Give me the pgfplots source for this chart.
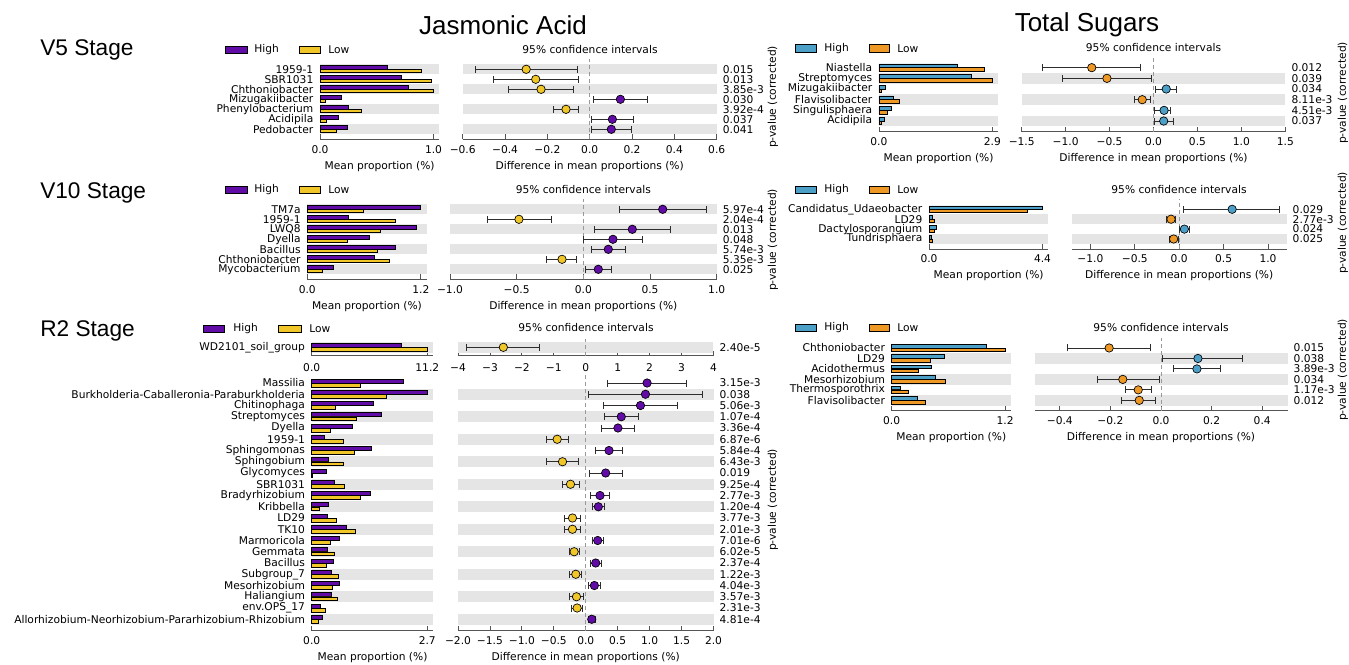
\documentclass[border=0pt]{standalone}
\usepackage{fontspec}
\setmainfont{DejaVu Sans}
\newfontfamily\arial{Liberation Sans}
\usepackage{pgfplots}
\usepackage{pgfplotstable}
\pgfplotsset{compat=1.18}

% 1 px of the reference = 0.75pt
\newcommand\px[1]{\fpeval{(#1)*0.75}pt}
\newcommand\fs{\fontsize{8}{9.6}\selectfont}

\definecolor{jaH}{RGB}{98,12,168}
\definecolor{jaL}{RGB}{240,198,40}
\definecolor{tsH}{RGB}{76,160,200}
\definecolor{tsL}{RGB}{238,152,38}
\definecolor{bandc}{RGB}{229,229,229}
\definecolor{axc}{RGB}{85,85,85}
\definecolor{errc}{RGB}{45,45,45}

% r = row counted from the bottom; hi/lo = mean proportion; d, cl, ch = difference and 95% CI; g = larger group
\pgfplotstableread{
r hi lo d cl ch g
7 0.59 0.89 -0.300 -0.539 -0.058 l
6 0.72 0.98 -0.255 -0.455 -0.054 l
5 0.78 1.00 -0.230 -0.384 -0.076 l
4 0.19 0.05 0.145 0.016 0.274 h
3 0.25 0.36 -0.112 -0.170 -0.052 l
2 0.16 0.06 0.107 0.009 0.206 h
1 0.24 0.14 0.102 0.009 0.198 h
}\tJAa
\pgfplotstableread{
r hi lo d cl ch g
7 1.200 0.593 0.595 0.270 0.920 h
6 0.434 0.928 -0.483 -0.718 -0.238 l
5 1.150 0.777 0.367 0.083 0.655 h
4 0.657 0.427 0.222 0.000 0.445 h
3 0.935 0.745 0.187 0.062 0.318 h
2 0.706 0.868 -0.160 -0.275 -0.050 l
1 0.272 0.159 0.112 0.018 0.208 h
}\tJAb
\pgfplotstableread{
r hi lo d cl ch g
1 8.64 11.20 -2.58 -3.73 -1.45 l
}\tJAc
\pgfplotstableread{
r hi lo d cl ch g
22 2.14 1.14 0.960 0.340 1.580 h
21 2.70 1.75 0.935 0.050 1.830 h
20 1.45 0.55 0.857 0.270 1.440 h
19 1.63 1.05 0.556 0.296 0.820 h
18 0.95 0.43 0.504 0.240 0.764 h
17 0.30 0.74 -0.447 -0.613 -0.275 l
16 1.39 1.00 0.364 0.156 0.571 h
15 0.38 0.74 -0.364 -0.613 -0.114 l
14 0.35 0.02 0.312 0.052 0.571 h
13 0.52 0.76 -0.239 -0.364 -0.104 l
12 1.38 1.14 0.223 0.078 0.374 h
11 0.39 0.17 0.197 0.104 0.300 h
10 0.37 0.57 -0.208 -0.338 -0.078 l
9 0.82 1.02 -0.208 -0.338 -0.078 l
8 0.64 0.43 0.187 0.104 0.270 h
7 0.37 0.54 -0.182 -0.260 -0.104 l
6 0.51 0.35 0.156 0.068 0.244 h
5 0.47 0.62 -0.156 -0.250 -0.062 l
4 0.64 0.48 0.135 0.042 0.234 h
3 0.47 0.60 -0.145 -0.260 -0.042 l
2 0.195 0.31 -0.135 -0.218 -0.052 l
1 0.26 0.156 0.094 0.042 0.145 h
}\tJAd
\pgfplotstableread{
r hi lo d cl ch g
6 2.00 2.70 -0.703 -1.262 -0.149 l
5 2.36 2.90 -0.530 -1.034 -0.025 l
4 0.167 0.056 0.145 0.020 0.265 h
3 0.38 0.51 -0.128 -0.219 -0.033 l
2 0.33 0.22 0.120 0.008 0.194 h
1 0.148 0.074 0.116 0.008 0.223 h
}\tTSa
\pgfplotstableread{
r hi lo d cl ch g
4 4.40 3.81 0.596 0.050 1.133 h
3 0.14 0.20 -0.092 -0.138 -0.042 l
2 0.28 0.21 0.058 0.000 0.117 h
1 0.085 0.113 -0.0625 -0.1125 -0.0125 l
}\tTSb
\pgfplotstableread{
r hi lo d cl ch g
6 1.00 1.20 -0.205 -0.370 -0.040 l
5 0.556 0.41 0.146 0.006 0.323 h
4 0.42 0.284 0.142 0.049 0.235 h
3 0.46 0.567 -0.151 -0.252 -0.007 l
2 0.096 0.18 -0.090 -0.140 -0.036 l
1 0.268 0.357 -0.086 -0.155 -0.0215 l
}\tTSc

\pgfplotsset{
  stamp/.style={scale only axis, anchor=north west, clip=false,
    axis x line*=bottom,
    x axis line style={draw=axc, line width=0.6pt},
    y axis line style={draw=none},
    tick align=inside, major tick length=\px{5},
    xtick style={draw=axc, line width=0.6pt},
    ytick style={draw=none},
    tick label style={font=\fs},
    xticklabel style={anchor=center, yshift=-\px{10}},
    xlabel style={font=\fs, at={(axis description cs:0.5,0)}, anchor=center, yshift=-\px{27}},
  },
  barpanel/.style={stamp, axis y line*=left, xmin=0,
    yticklabel style={anchor=east, xshift=-\px{2}}},
  cipanel/.style={stamp, axis y line*=right,
    yticklabel style={anchor=west, xshift=\px{1.5}}},
  band/.style={forget plot, draw=bandc, line width=#1, mark=none},
  zero/.style={forget plot, draw=gray!80, line width=0.6pt, dash pattern=on \px{4} off \px{3}, mark=none},
  hbar/.style={xbar, bar width=0.34, bar shift=0pt, draw=black, line width=0.5pt, forget plot},
}

% bars of one panel
\newcommand\bars[3]{%
  \addplot[hbar, fill=#2] table[x=hi, y expr=\thisrow{r}+0.18]{#1};
  \addplot[hbar, fill=#3] table[x=lo, y expr=\thisrow{r}-0.18]{#1};
}
% confidence intervals of one panel
\newcommand\cis[3]{%
  \addplot[forget plot, only marks, mark=none,
    error bars/.cd, x dir=both, x explicit, error mark=|,
    error bar style={draw=errc, line width=0.7pt, solid},
    error mark options={draw=errc, line width=0.7pt, mark size=\px{3.5}}]
    table[x=d, y=r, x error plus expr=\thisrow{ch}-\thisrow{d},
          x error minus expr=\thisrow{d}-\thisrow{cl}]{#1};
  \addplot[only marks, scatter, scatter src=explicit symbolic, mark=*, mark size=\px{4.2},
    mark options={line width=0.5pt},
    scatter/classes={h={mark=*, draw=black, fill=#2}, l={mark=*, draw=black, fill=#3}}]
    table[x=d, y=r, meta=g]{#1};
}
% legend swatches: box1 from, to, text; box2 from, to, text; y; colours
\newcommand\lgd[9]{%
  \filldraw[fill=#8, draw=black, line width=0.5pt] (\px{#1},\px{-(#7)+3.6}) rectangle (\px{#2},\px{-(#7)-3.6});
  \node[anchor=west, inner sep=0pt, font=\fs] at (\px{#3},\px{-(#7)}) {High};
  \filldraw[fill=#9, draw=black, line width=0.5pt] (\px{#4},\px{-(#7)+3.6}) rectangle (\px{#5},\px{-(#7)-3.6});
  \node[anchor=west, inner sep=0pt, font=\fs] at (\px{#6},\px{-(#7)}) {Low};
}
\newcommand\cititle[2]{\node[font=\fs] at (\px{#1},\px{-(#2)}) {95\% confidence intervals};}

\begin{document}
\begin{tikzpicture}
\useasboundingbox (0,0) rectangle (\px{1349},\px{-664});

% ---------------- Jasmonic Acid, V5
\begin{axis}[barpanel, at={(\px{320},\px{-59.3})}, width=\px{119.3}, height=\px{80},
  xmax=1.051, ymin=0, ymax=8, xtick={0,1}, xticklabels={0.0,1.0},
  ytick={1,...,7}, yticklabels={Pedobacter,Acidipila,Phenylobacterium,Mizugakiibacter,Chthoniobacter,SBR1031,1959-1},
  xlabel={Mean proportion (\%)}]
\pgfplotsinvokeforeach{1,3,5,7}{\addplot[band=\px{10}] coordinates {(0,#1) (1.051,#1)};}
\bars{\tJAa}{jaH}{jaL}
\end{axis}
\begin{axis}[cipanel, at={(\px{462.7},\px{-59.3})}, width=\px{254}, height=\px{80},
  xmin=-0.6, xmax=0.6, ymin=0, ymax=8,
  xtick={-0.6,-0.4,-0.2,0,0.2,0.4,0.6}, xticklabels={−0.6,−0.4,−0.2,0.0,0.2,0.4,0.6},
  ytick={1,...,7}, yticklabels={0.041,0.037,3.92e-4,0.030,3.85e-3,0.013,0.015},
  xlabel={Difference in mean proportions (\%)}]
\pgfplotsinvokeforeach{1,3,5,7}{\addplot[band=\px{10}] coordinates {(-0.6,#1) (0.6,#1)};}
\addplot[zero] coordinates {(0,0) (0,8)};
\cis{\tJAa}{jaH}{jaL}
\end{axis}

% ---------------- Jasmonic Acid, V10
\begin{axis}[barpanel, at={(\px{307.3},\px{-199.3})}, width=\px{119.3}, height=\px{80},
  xmax=1.2612, ymin=0, ymax=8, xtick={0,1.2}, xticklabels={0.0,1.2},
  ytick={1,...,7}, yticklabels={Mycobacterium,Chthoniobacter,Bacillus,Dyella,LWQ8,1959-1,TM7a},
  xlabel={Mean proportion (\%)}]
\pgfplotsinvokeforeach{1,3,5,7}{\addplot[band=\px{10}] coordinates {(0,#1) (1.2612,#1)};}
\bars{\tJAb}{jaH}{jaL}
\end{axis}
\begin{axis}[cipanel, at={(\px{450},\px{-199.3})}, width=\px{266.7}, height=\px{80},
  xmin=-1, xmax=1, ymin=0, ymax=8,
  xtick={-1,-0.5,0,0.5,1}, xticklabels={−1.0,−0.5,0.0,0.5,1.0},
  ytick={1,...,7}, yticklabels={0.025,5.35e-3,5.74e-3,0.048,0.013,2.04e-4,5.97e-4},
  xlabel={Difference in mean proportions (\%)}]
\pgfplotsinvokeforeach{1,3,5,7}{\addplot[band=\px{10}] coordinates {(-1,#1) (1,#1)};}
\addplot[zero] coordinates {(0,0) (0,8)};
\cis{\tJAb}{jaH}{jaL}
\end{axis}

% ---------------- Jasmonic Acid, R2 (first feature)
\begin{axis}[barpanel, at={(\px{311.7},\px{-339.05})}, width=\px{121.6}, height=\px{16.5},
  xmax=11.78, ymin=0.25, ymax=1.75, xtick={0,11.2}, xticklabels={0.0,11.2},
  xticklabel style={yshift=-\px{2}},
  ytick={1}, yticklabels={WD2101\_soil\_group}]
\addplot[band=\px{11}] coordinates {(0,1) (11.78,1)};
\bars{\tJAc}{jaH}{jaL}
\end{axis}
\begin{axis}[cipanel, at={(\px{458},\px{-339.05})}, width=\px{255.5}, height=\px{16.5},
  xmin=-4, xmax=4, ymin=0.25, ymax=1.75,
  xtick={-4,...,4}, xticklabels={−4,−3,−2,−1,0,1,2,3,4},
  xticklabel style={yshift=-\px{2}},
  ytick={1}, yticklabels={2.40e-5}]
\addplot[band=\px{11}] coordinates {(-4,1) (4,1)};
\addplot[zero] coordinates {(0,0.25) (0,1.75)};
\cis{\tJAc}{jaH}{jaL}
\end{axis}

% ---------------- Jasmonic Acid, R2 (other features)
\begin{axis}[barpanel, at={(\px{311.7},\px{-371.75})}, width=\px{121.6}, height=\px{258.75},
  xmax=2.84, ymin=0, ymax=23, xtick={0,2.7}, xticklabels={0.0,2.7},
  ytick={1,...,22}, yticklabels={Allorhizobium-Neorhizobium-Pararhizobium-Rhizobium,env.OPS\_17,Haliangium,Mesorhizobium,Subgroup\_7,Bacillus,Gemmata,Marmoricola,TK10,LD29,Kribbella,Bradyrhizobium,SBR1031,Glycomyces,Sphingobium,Sphingomonas,1959-1,Dyella,Streptomyces,Chitinophaga,Burkholderia-Caballeronia-Paraburkholderia,Massilia},
  xlabel={Mean proportion (\%)}]
\pgfplotsinvokeforeach{1,3,...,21}{\addplot[band=\px{11.25}] coordinates {(0,#1) (2.84,#1)};}
\bars{\tJAd}{jaH}{jaL}
\end{axis}
\begin{axis}[cipanel, at={(\px{458},\px{-371.75})}, width=\px{255.5}, height=\px{258.75},
  xmin=-2, xmax=2, ymin=0, ymax=23,
  xtick={-2,-1.5,-1,-0.5,0,0.5,1,1.5,2}, xticklabels={−2.0,−1.5,−1.0,−0.5,0.0,0.5,1.0,1.5,2.0},
  ytick={1,...,22}, yticklabels={4.81e-4,2.31e-3,3.57e-3,4.04e-3,1.22e-3,2.37e-4,6.02e-5,7.01e-6,2.01e-3,3.77e-3,1.20e-4,2.77e-3,9.25e-4,0.019,6.43e-3,5.84e-4,6.87e-6,3.36e-4,1.07e-4,5.06e-3,0.038,3.15e-3},
  xlabel={Difference in mean proportions (\%)}]
\pgfplotsinvokeforeach{1,3,...,21}{\addplot[band=\px{11.25}] coordinates {(-2,#1) (2,#1)};}
\addplot[zero] coordinates {(0,0) (0,23)};
\cis{\tJAd}{jaH}{jaL}
\end{axis}

% ---------------- Total Sugars, V5
\begin{axis}[barpanel, at={(\px{878.9},\px{-57})}, width=\px{119.3}, height=\px{74.7},
  xmax=3.048, ymin=0, ymax=7, xtick={0,2.9}, xticklabels={0.0,2.9},
  ytick={1,...,6}, yticklabels={Acidipila,Singulisphaera,Flavisolibacter,Mizugakiibacter,Streptomyces,Niastella},
  xlabel={Mean proportion (\%)}]
\pgfplotsinvokeforeach{1,3,5}{\addplot[band=\px{10.67}] coordinates {(0,#1) (3.048,#1)};}
\bars{\tTSa}{tsH}{tsL}
\end{axis}
\begin{axis}[cipanel, at={(\px{1021.7},\px{-57})}, width=\px{263.6}, height=\px{74.7},
  xmin=-1.5, xmax=1.5, ymin=0, ymax=7,
  xtick={-1.5,-1,-0.5,0,0.5,1,1.5}, xticklabels={−1.5,−1.0,−0.5,0.0,0.5,1.0,1.5},
  ytick={1,...,6}, yticklabels={0.037,4.51e-3,8.11e-3,0.034,0.039,0.012},
  xlabel={Difference in mean proportions (\%)}]
\pgfplotsinvokeforeach{1,3,5}{\addplot[band=\px{10.67}] coordinates {(-1.5,#1) (1.5,#1)};}
\addplot[zero] coordinates {(0,0) (0,7)};
\cis{\tTSa}{tsH}{tsL}
\end{axis}

% ---------------- Total Sugars, V10
\begin{axis}[barpanel, at={(\px{929},\px{-199.4})}, width=\px{119.3}, height=\px{49.5},
  xmax=4.624, ymin=0, ymax=5, xtick={0,4.4}, xticklabels={0.0,4.4},
  ytick={1,...,4}, yticklabels={Tundrisphaera,Dactylosporangium,LD29,Candidatus\_Udaeobacter},
  xlabel={Mean proportion (\%)}]
\pgfplotsinvokeforeach{1,3}{\addplot[band=\px{9.9}] coordinates {(0,#1) (4.624,#1)};}
\bars{\tTSb}{tsH}{tsL}
\end{axis}
\begin{axis}[cipanel, at={(\px{1071.9},\px{-199.4})}, width=\px{214.6}, height=\px{49.5},
  xmin=-1.208, xmax=1.208, ymin=0, ymax=5,
  xtick={-1,-0.5,0,0.5,1}, xticklabels={−1.0,−0.5,0.0,0.5,1.0},
  ytick={1,...,4}, yticklabels={0.025,0.024,2.77e-3,0.029},
  xlabel={Difference in mean proportions (\%)}]
\pgfplotsinvokeforeach{1,3}{\addplot[band=\px{9.9}] coordinates {(-1.208,#1) (1.208,#1)};}
\addplot[zero] coordinates {(0,0) (0,5)};
\cis{\tTSb}{tsH}{tsL}
\end{axis}

% ---------------- Total Sugars, R2
\begin{axis}[barpanel, at={(\px{891.6},\px{-337.5})}, width=\px{119.3}, height=\px{73.3},
  xmax=1.261, ymin=0, ymax=7, xtick={0,1.2}, xticklabels={0.0,1.2},
  ytick={1,...,6}, yticklabels={Flavisolibacter,Thermosporothrix,Mesorhizobium,Acidothermus,LD29,Chthoniobacter},
  xlabel={Mean proportion (\%)}]
\pgfplotsinvokeforeach{1,3,5}{\addplot[band=\px{10.47}] coordinates {(0,#1) (1.261,#1)};}
\bars{\tTSc}{tsH}{tsL}
\end{axis}
\begin{axis}[cipanel, at={(\px{1034.5},\px{-337.5})}, width=\px{253}, height=\px{73.3},
  xmin=-0.5, xmax=0.5, ymin=0, ymax=7,
  xtick={-0.4,-0.2,0,0.2,0.4}, xticklabels={−0.4,−0.2,0.0,0.2,0.4},
  ytick={1,...,6}, yticklabels={0.012,1.17e-3,0.034,3.89e-3,0.038,0.015},
  xlabel={Difference in mean proportions (\%)}]
\pgfplotsinvokeforeach{1,3,5}{\addplot[band=\px{10.47}] coordinates {(-0.5,#1) (0.5,#1)};}
\addplot[zero] coordinates {(0,0) (0,7)};
\cis{\tTSc}{tsH}{tsL}
\end{axis}

% ---------------- titles, stage names, legends, p-value labels
\node[font=\arial\fontsize{19.5}{23}\selectfont] at (\px{503},\px{-25}) {Jasmonic Acid};
\node[font=\arial\fontsize{19.5}{23}\selectfont] at (\px{1087},\px{-25}) {Total Sugars};
\node[anchor=west, inner sep=0pt, font=\arial\fontsize{17}{20}\selectfont] at (\px{40},\px{-50}) {V5 Stage};
\node[anchor=west, inner sep=0pt, font=\arial\fontsize{17}{20}\selectfont] at (\px{40},\px{-193}) {V10 Stage};
\node[anchor=west, inner sep=0pt, font=\arial\fontsize{17}{20}\selectfont] at (\px{40},\px{-331}) {R2 Stage};

\cititle{590}{50}
\cititle{583.3}{190}
\cititle{586}{327.3}
\cititle{1153.5}{47.7}
\cititle{1179}{190}
\cititle{1161}{328}

\lgd{225}{247}{254}{299}{320}{328}{50}{jaH}{jaL}
\lgd{225}{247}{254}{299}{320}{328}{190}{jaH}{jaL}
\lgd{203}{224}{233}{278}{301}{309}{328.7}{jaH}{jaL}
\lgd{795}{816}{824}{869}{889}{897}{48.3}{tsH}{tsL}
\lgd{795}{816}{824}{869}{889}{897}{190}{tsH}{tsL}
\lgd{795}{816}{824}{869}{889}{897}{328}{tsH}{tsL}

\node[rotate=90, font=\fs] at (\px{773},\px{-97}) {p-value (corrected)};
\node[rotate=90, font=\fs] at (\px{773},\px{-240}) {p-value (corrected)};
\node[rotate=90, font=\fs] at (\px{773},\px{-500}) {p-value (corrected)};
\node[rotate=90, font=\fs] at (\px{1343},\px{-93}) {p-value (corrected)};
\node[rotate=90, font=\fs] at (\px{1343},\px{-223}) {p-value (corrected)};
\node[rotate=90, font=\fs] at (\px{1343},\px{-370}) {p-value (corrected)};
\end{tikzpicture}
\end{document}
